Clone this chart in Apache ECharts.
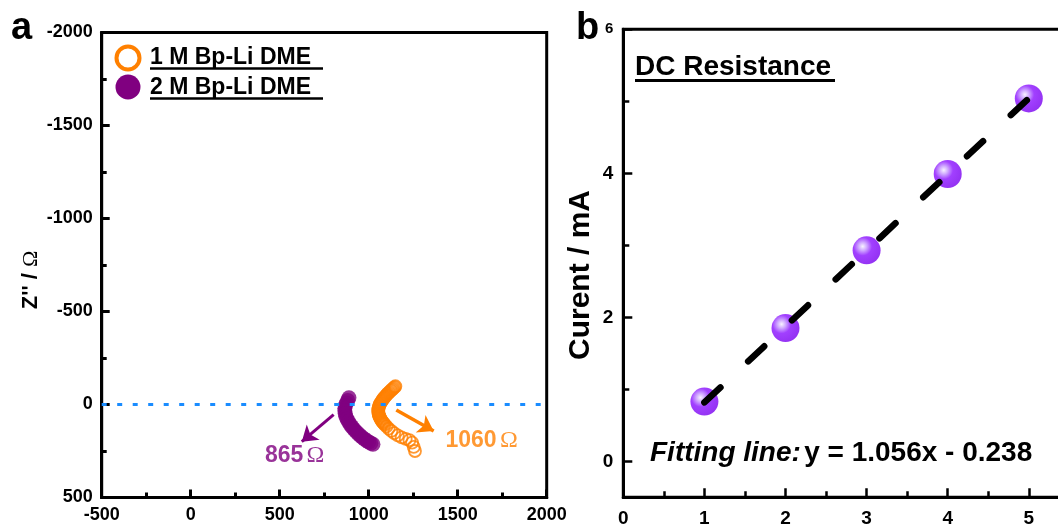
<!DOCTYPE html>
<html><head><meta charset="utf-8">
<script src="https://cdn.jsdelivr.net/npm/echarts@6/dist/echarts.min.js"></script>
<style>html,body{margin:0;padding:0;background:#fff}#c{width:1058px;height:524px}</style>
</head><body><div id="c"></div>
<script>
// ---- Panel a: Nyquist data (Z' , Z'') ----
const orangeX = [1150,1145,1139,1134,1128,1123,1117,1112,1106,1101,1096,1091,1086,1081,1077,1073,1069,1065,1062,1059,1057,1055,1054,1054,1054,1055,1056,1058,1060,1063,1066,1069,1073,1077,1081,1086,1090,1100,1112,1127,1143,1163,1185,1208,1229,1244,1253,1260];
const orangeY = [-98,-93,-88,-83,-78,-73,-68,-63,-58,-52,-47,-41,-36,-30,-24,-18,-12,-6,0,7,13,20,26,33,39,46,52,58,64,70,76,82,88,93,98,103,108,118,130,142,154,166,177,185,192,205,228,250];
const purpleX = [889,882,875,869,866,866,868,872,878,886,895,905,916,927,939,951,963,975,988,1000,1012,1024];
const purpleY = [-36,-22,-8,6,20,35,50,64,78,92,106,119,132,144,155,166,176,185,194,201,208,214];
const zeroLineX = [-500, 2000];
const zeroLineY = [0, 0];
const arrow865X = [803, 624];
const arrow865Y = [55, 200];
const arrow1060X = [1155, 1365];
const arrow1060Y = [30, 143];
const label865 = [584, 276];
const label1060 = [1634, 196];
const legendNames = ['1 M Bp-Li DME', '2 M Bp-Li DME'];
// ---- Panel b: DC resistance ----
const voltX = [1, 2, 3, 4, 5];
const currentY = [0.83, 1.85, 2.93, 3.99, 5.04];
const fitX = [1, 5];
const fitY = [0.818, 5.042];

const FF = '"Liberation Sans", Arial, sans-serif';
const SERIF = '"Liberation Serif", "Times New Roman", serif';
const ORANGE = '#ff8000', PURPLE = '#800080';
const zip = (a, b) => a.map((v, i) => [v, b[i]]);

const chart = echarts.init(document.getElementById('c'), null, {renderer: 'canvas'});

const axisLine = {show: true, onZero: false, lineStyle: {color: '#000', width: 3}};
const lbl = (size, margin) => ({color: '#000', fontSize: size, fontWeight: 'bold', fontFamily: FF, margin: margin, formatter: v => String(v)});

const sphere = {
  type: 'radial', x: 0.36, y: 0.36, r: 0.66,
  colorStops: [
    {offset: 0, color: '#f6efff'},
    {offset: 0.22, color: '#c595ff'},
    {offset: 0.5, color: '#8a10ff'},
    {offset: 1, color: '#7a00f0'}
  ]
};

const option = {
  animation: false,
  backgroundColor: '#fff',
  grid: [
    {left: 101.7, top: 32.5, width: 445, height: 465, show: true, borderColor: '#000', borderWidth: 3, backgroundColor: 'transparent', containLabel: false, outerBoundsMode: 'none'},
    {left: 623.3, top: 29.3, width: 486.6, height: 468, show: true, borderColor: '#000', borderWidth: 3, backgroundColor: 'transparent', containLabel: false, outerBoundsMode: 'none'}
  ],
  xAxis: [
    {gridIndex: 0, type: 'value', min: -500, max: 2000, interval: 500,
     axisLine: axisLine,
     axisTick: {inside: true, length: 8, lineStyle: {color: '#000', width: 3}},
     minorTick: {show: true, splitNumber: 2, length: 5, lineStyle: {color: '#000', width: 3}},
     splitLine: {show: false}, minorSplitLine: {show: false},
     axisLabel: lbl(18, 9)},
    {gridIndex: 1, type: 'value', min: 0, max: 6, interval: 1,
     axisLine: axisLine,
     axisTick: {inside: true, length: 9, lineStyle: {color: '#000', width: 2.5}},
     minorTick: {show: true, splitNumber: 2, length: 6, lineStyle: {color: '#000', width: 2.5}},
     splitLine: {show: false},
     axisLabel: lbl(19, 12)}
  ],
  yAxis: [
    {gridIndex: 0, type: 'value', inverse: true, min: -2000, max: 500, interval: 500,
     axisLine: axisLine,
     axisTick: {inside: true, length: 8, lineStyle: {color: '#000', width: 3}},
     minorTick: {show: true, splitNumber: 2, length: 5, lineStyle: {color: '#000', width: 3}},
     splitLine: {show: false},
     axisLabel: lbl(18, 9)},
    {gridIndex: 1, type: 'value', min: -0.5, max: 6, splitNumber: 3,
     axisLine: axisLine,
     axisTick: {inside: true, length: 9, lineStyle: {color: '#000', width: 2.5}},
     minorTick: {show: true, splitNumber: 2, length: 6, lineStyle: {color: '#000', width: 2.5}},
     splitLine: {show: false},
     axisLabel: {color: '#000', fontWeight: 'bold', fontFamily: FF, margin: 10, fontSize: 19,
       formatter: v => (v === 6 ? '{s|6}' : (Number.isInteger(v) ? String(v) : '')),
       rich: {s: {fontSize: 15, fontWeight: 'bold', fontFamily: FF, color: '#000'}}}}
  ],
  series: [
    {name: legendNames[0], type: 'scatter', xAxisIndex: 0, yAxisIndex: 0,
     data: zip(orangeX, orangeY), symbol: 'circle', symbolSize: 12, z: 3,
     itemStyle: {color: 'rgba(255,255,255,0)', borderColor: ORANGE, borderWidth: 1.8}},
    {name: legendNames[1], type: 'scatter', xAxisIndex: 0, yAxisIndex: 0,
     data: zip(purpleX, purpleY), symbol: 'circle', symbolSize: 15, z: 3,
     itemStyle: {color: PURPLE}},
    {type: 'line', xAxisIndex: 0, yAxisIndex: 0, data: zip(zeroLineX, zeroLineY),
     symbol: 'none', z: 5, silent: true,
     lineStyle: {color: '#1a8cff', width: 3, type: [5, 10.5], cap: 'butt'}},
    {type: 'lines', coordinateSystem: 'cartesian2d', xAxisIndex: 0, yAxisIndex: 0, z: 6,
     symbol: ['none', 'arrow'], symbolSize: 15,
     data: [
       {coords: zip(arrow865X, arrow865Y), lineStyle: {color: PURPLE, width: 3, opacity: 1}},
       {coords: zip(arrow1060X, arrow1060Y), lineStyle: {color: ORANGE, width: 3.5, opacity: 1}}
     ]},
    {type: 'scatter', xAxisIndex: 0, yAxisIndex: 0, symbolSize: 0, z: 6, silent: true,
     data: [
       {value: label865, label: {show: true, position: 'inside',
         formatter: '{n|865} {o|Ω}',
         rich: {n: {fontSize: 23, fontWeight: 'bold', fontFamily: FF, color: PURPLE},
                o: {fontSize: 24, fontFamily: SERIF, color: PURPLE}}}},
       {value: label1060, label: {show: true, position: 'inside',
         formatter: '{n|1060} {o|Ω}',
         rich: {n: {fontSize: 23, fontWeight: 'bold', fontFamily: FF, color: ORANGE},
                o: {fontSize: 24, fontFamily: SERIF, color: ORANGE}}}}
     ]},
    {name: 'Current', type: 'scatter', xAxisIndex: 1, yAxisIndex: 1,
     data: zip(voltX, currentY), symbol: 'circle', symbolSize: 28, z: 3,
     itemStyle: {color: sphere}},
    {name: 'Fit', type: 'line', xAxisIndex: 1, yAxisIndex: 1,
     data: zip(fitX, fitY), symbol: 'none', z: 5,
     lineStyle: {color: '#000', width: 6.5, type: [22, 38], cap: 'round'}}
  ],
  graphic: [
    {type: 'text', x: 11, y: 29, style: {text: 'a', font: 'bold 38px ' + FF, fill: '#000', verticalAlign: 'middle'}},
    {type: 'text', x: 576, y: 29, style: {text: 'b', font: 'bold 38px ' + FF, fill: '#000', verticalAlign: 'middle'}},
    // legend
    {type: 'circle', shape: {cx: 128, cy: 58, r: 11.5}, style: {fill: 'none', stroke: ORANGE, lineWidth: 4}},
    {type: 'circle', shape: {cx: 128, cy: 87, r: 12.5}, style: {fill: PURPLE}},
    {type: 'text', x: 150, y: 57.5, style: {text: legendNames[0], font: 'bold 23px ' + FF, fill: '#000', verticalAlign: 'middle'}},
    {type: 'text', x: 150, y: 87.5, style: {text: legendNames[1], font: 'bold 23px ' + FF, fill: '#000', verticalAlign: 'middle'}},
    {type: 'line', shape: {x1: 150, y1: 68.5, x2: 323, y2: 68.5}, style: {stroke: '#000', lineWidth: 2.3}},
    {type: 'line', shape: {x1: 150, y1: 98.5, x2: 323, y2: 98.5}, style: {stroke: '#000', lineWidth: 2.3}},
    // axis titles
    {type: 'text', x: 31, y: 280, rotation: Math.PI / 2,
     style: {text: "{b|Z'' / }{o|Ω}", align: 'center', verticalAlign: 'middle',
       rich: {b: {font: 'bold 22px ' + FF, fill: '#000'}, o: {font: '22px ' + SERIF, fill: '#000'}}}},
    {type: 'text', x: 581, y: 275, rotation: Math.PI / 2,
     style: {text: 'Curent / mA', font: 'bold 30px ' + FF, fill: '#000', align: 'center', verticalAlign: 'middle'}},
    // panel b annotations
    {type: 'text', x: 635, y: 67.5, style: {text: 'DC Resistance', font: 'bold 28px ' + FF, fill: '#000', verticalAlign: 'middle'}},
    {type: 'line', shape: {x1: 635, y1: 80.5, x2: 835, y2: 80.5}, style: {stroke: '#000', lineWidth: 3}},
    {type: 'text', x: 650, y: 453, style: {text: '{i|Fitting line:} {n|y = 1.056x - 0.238}', verticalAlign: 'middle',
      rich: {i: {font: 'italic bold 28px ' + FF, fill: '#000'}, n: {font: 'bold 28px ' + FF, fill: '#000'}}}}
  ]
};
chart.setOption(option);
</script>
</body></html>
